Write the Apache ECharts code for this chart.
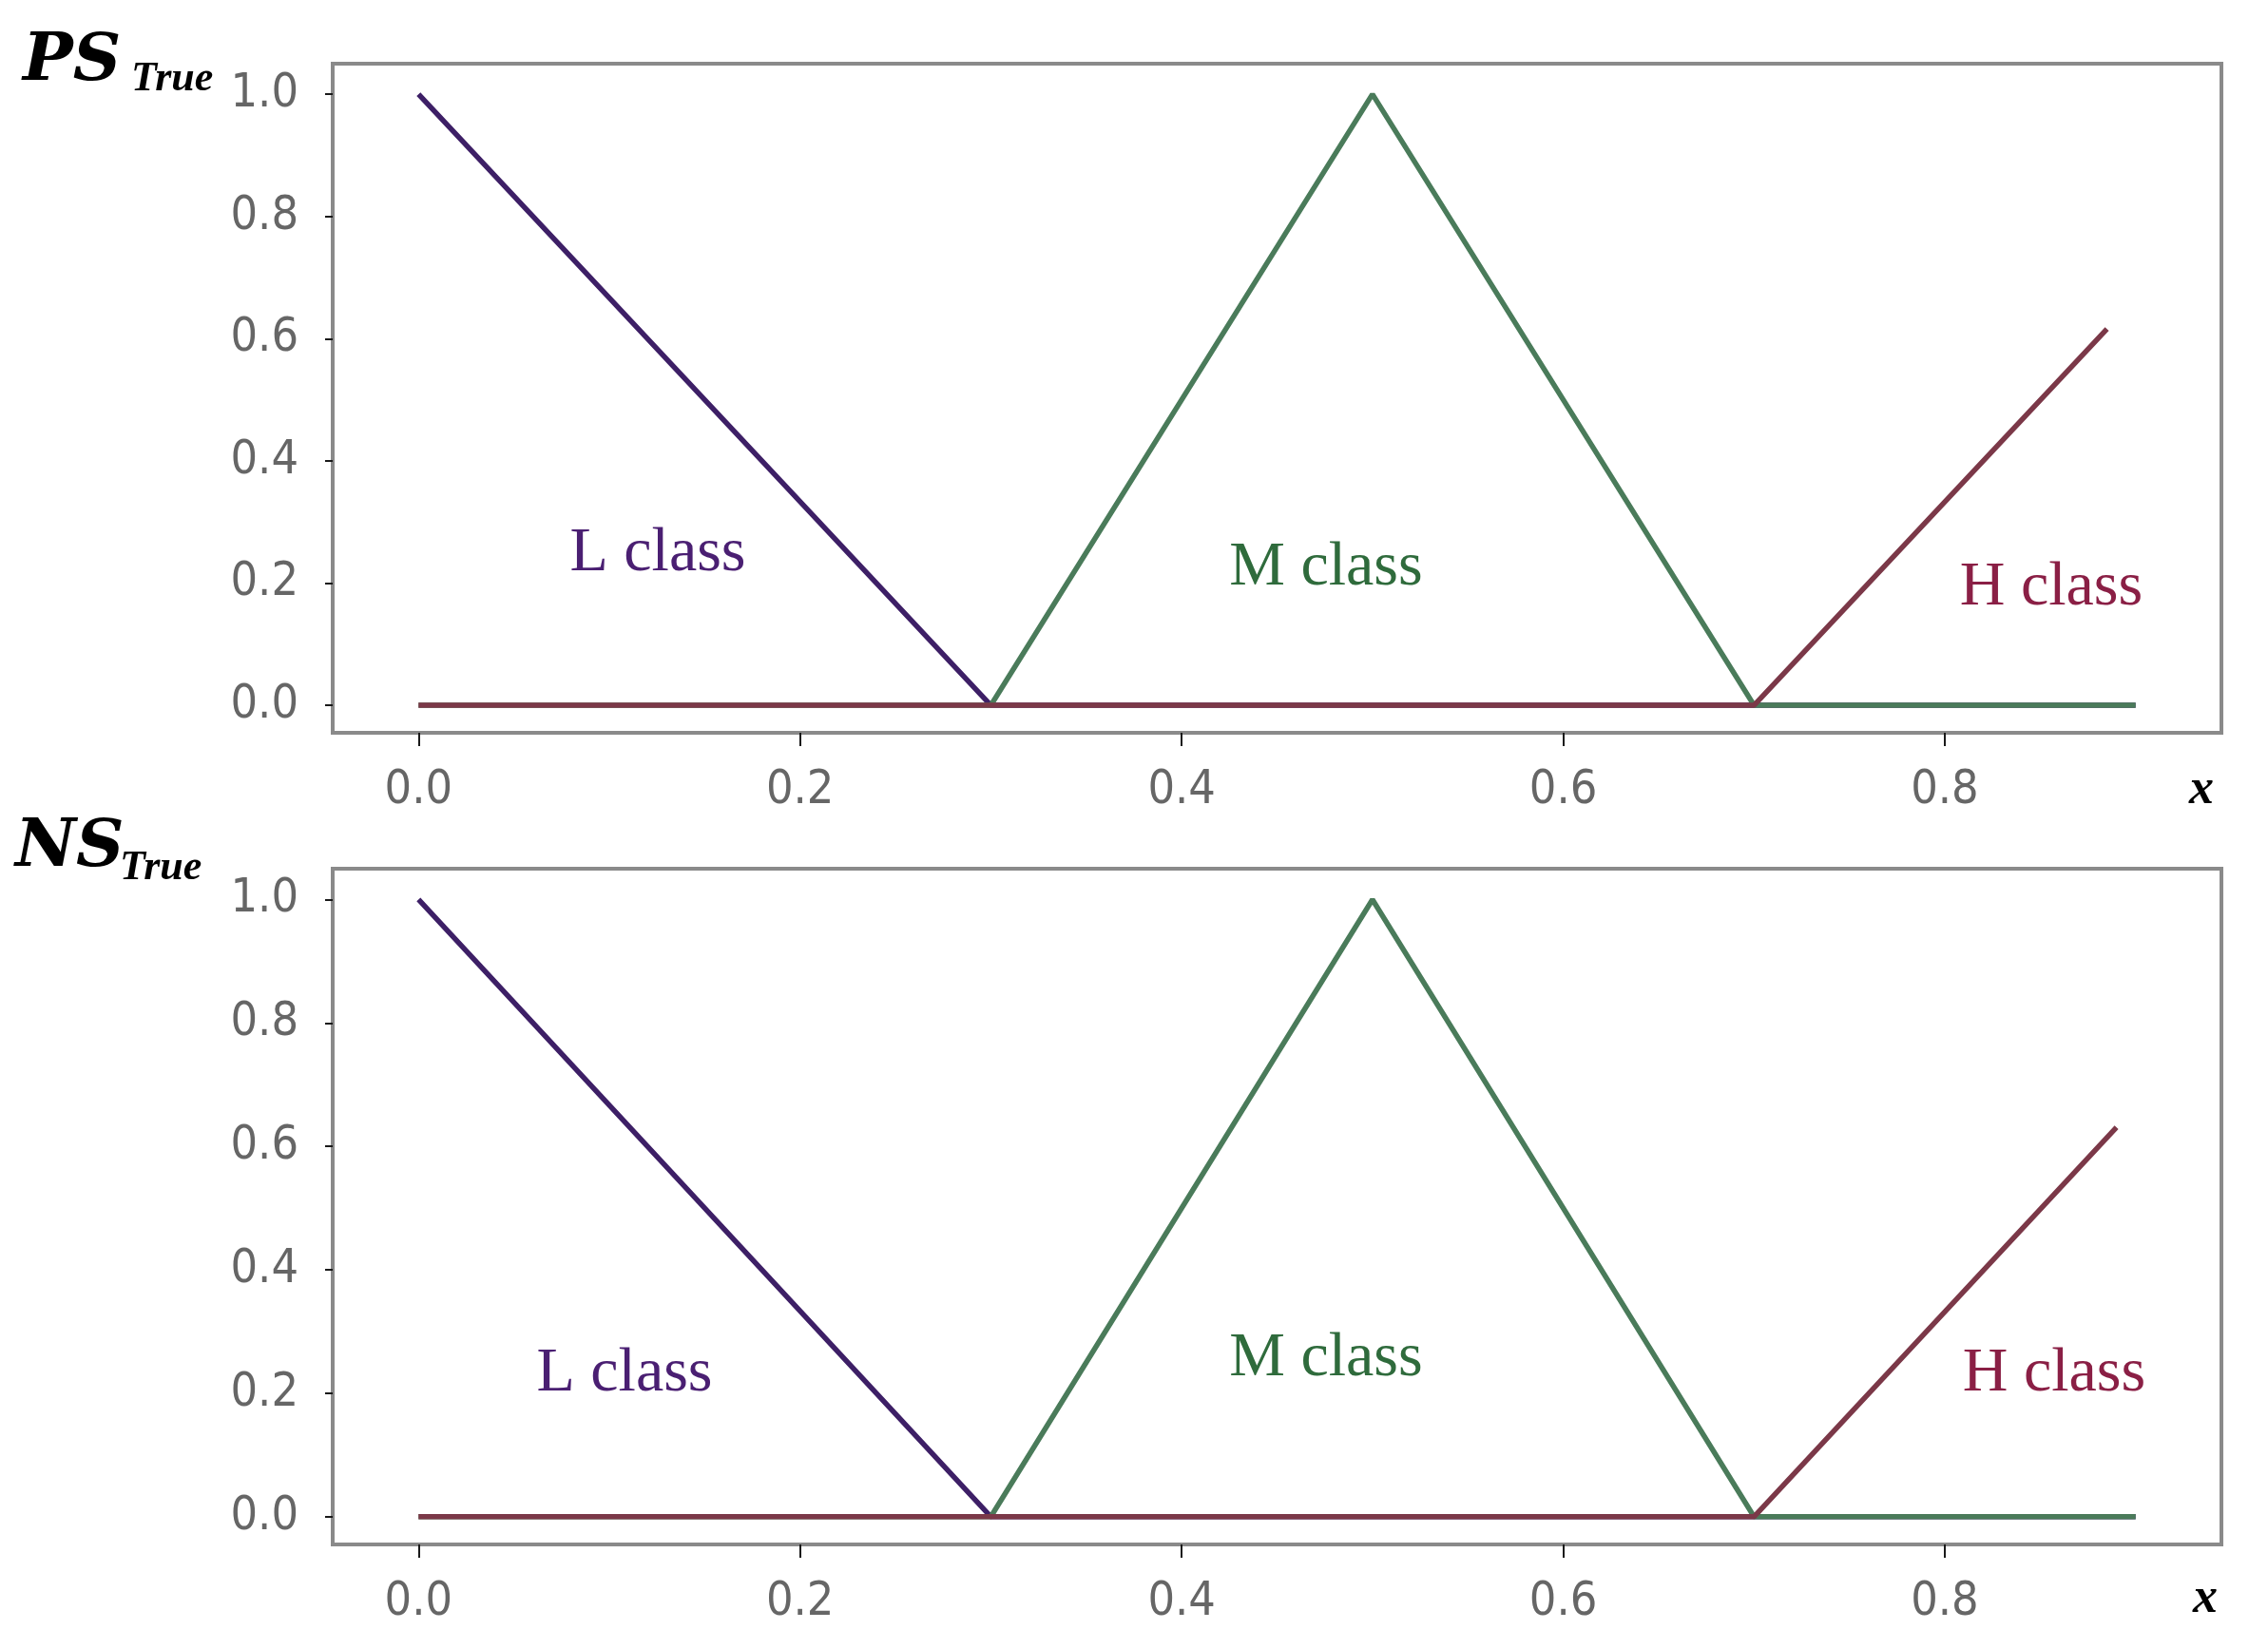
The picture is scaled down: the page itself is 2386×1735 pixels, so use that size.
<!DOCTYPE html>
<html>
<head>
<meta charset="utf-8">
<script src="https://cdn.jsdelivr.net/npm/echarts@6/dist/echarts.min.js"></script>
<style>html,body{margin:0;padding:0;background:#fff;}#c{width:2386px;height:1735px;}</style>
</head>
<body>
<div id="c"></div>
<script>
// ---- data ----
const xTicks = [0.0, 0.2, 0.4, 0.6, 0.8];
const yTicks = [0.0, 0.2, 0.4, 0.6, 0.8, 1.0];

// PS_True panel
const psL_x = [0.0, 0.3, 0.9];
const psL_y = [1.0, 0.0, 0.0];
const psM_x = [0.0, 0.3, 0.5, 0.7, 0.9];
const psM_y = [0.0, 0.0, 1.0, 0.0, 0.0];
const psH_x = [0.0, 0.7, 0.885];
const psH_y = [0.0, 0.0, 0.616];

// NS_True panel
const nsL_x = [0.0, 0.3, 0.9];
const nsL_y = [1.0, 0.0, 0.0];
const nsM_x = [0.0, 0.3, 0.5, 0.7, 0.9];
const nsM_y = [0.0, 0.0, 1.0, 0.0, 0.0];
const nsH_x = [0.0, 0.7, 0.89];
const nsH_y = [0.0, 0.0, 0.631];

const classNames = ['L class', 'M class', 'H class'];
const panelNames = ['PS', 'NS'];
const subscript = 'True';

// ---- styles ----
const cL = '#3d1f66', cM = '#4a7b5a', cH = '#7b3848';
const tL = '#4a1f72', tM = '#2f6b3c', tH = '#8a1f45';
const tickFont = "'DejaVu Sans Condensed','Liberation Sans',sans-serif";
const serif = "'Liberation Serif','DejaVu Serif',serif";
const wideSerif = "'DejaVu Serif','Liberation Serif',serif";

function pairs(xs, ys){ return xs.map((x,i)=>[x, ys[i]]); }

function xAxisCfg(gi){
  return {
    type:'value', gridIndex:gi, min:-0.045, max:0.945,
    axisLine:{show:false, onZero:false},
    splitLine:{show:false},
    axisTick:{show:true, customValues:xTicks, length:14, inside:false, lineStyle:{color:'#1a1a1a', width:2}},
    axisLabel:{show:true, customValues:xTicks, margin:36, color:'#666666', fontSize:50, fontFamily:tickFont,
      formatter:v=>v.toFixed(1)}
  };
}
function yAxisCfg(gi){
  return {
    type:'value', gridIndex:gi, min:-0.045, max:1.05,
    axisLine:{show:false, onZero:false},
    splitLine:{show:false},
    axisTick:{show:true, customValues:yTicks, length:8, inside:false, lineStyle:{color:'#1a1a1a', width:2}},
    axisLabel:{show:true, customValues:yTicks, margin:36, color:'#666666', fontSize:50, fontFamily:tickFont,
      formatter:v=>v.toFixed(1)}
  };
}
function line(gi, xs, ys, color, z){
  return {type:'line', xAxisIndex:gi, yAxisIndex:gi, data:pairs(xs,ys), showSymbol:false, symbol:'none',
    lineStyle:{color:color, width:5.5}, itemStyle:{color:color}, z:z, silent:true};
}
function txt(x, y, s, font, fill, align){
  return {type:'text', x:x, y:y, silent:true,
    style:{text:s, font:font, fill:fill, align:align||'center', verticalAlign:'middle'}};
}

const chart = echarts.init(document.getElementById('c'));
chart.setOption({
  animation:false,
  backgroundColor:'#ffffff',
  grid:[
    {left:350, top:67, width:1987, height:704, show:true, borderColor:'#8a8a8a', borderWidth:4, outerBoundsMode:'none', containLabel:false},
    {left:350, top:914, width:1987, height:711, show:true, borderColor:'#8a8a8a', borderWidth:4, outerBoundsMode:'none', containLabel:false}
  ],
  xAxis:[xAxisCfg(0), xAxisCfg(1)],
  yAxis:[yAxisCfg(0), yAxisCfg(1)],
  series:[
    line(0, psL_x, psL_y, cL, 2),
    line(0, psM_x, psM_y, cM, 3),
    line(0, psH_x, psH_y, cH, 4),
    line(1, nsL_x, nsL_y, cL, 2),
    line(1, nsM_x, nsM_y, cM, 3),
    line(1, nsH_x, nsH_y, cH, 4)
  ],
  graphic:[
    txt(24, 66, panelNames[0], 'italic bold 70px '+wideSerif, '#000', 'left'),
    txt(138, 84, subscript, 'italic bold 44px '+serif, '#000', 'left'),
    txt(16, 893, panelNames[1], 'italic bold 70px '+wideSerif, '#000', 'left'),
    txt(126, 914, subscript, 'italic bold 44px '+serif, '#000', 'left'),
    txt(2316, 832, 'x', 'italic bold 52px '+serif, '#000'),
    txt(2320, 1683, 'x', 'italic bold 52px '+serif, '#000'),
    txt(692, 583, classNames[0], '66px '+serif, tL),
    txt(1395, 598, classNames[1], '66px '+serif, tM),
    txt(2158, 619, classNames[2], '66px '+serif, tH),
    txt(657, 1446, classNames[0], '66px '+serif, tL),
    txt(1395, 1430, classNames[1], '66px '+serif, tM),
    txt(2161, 1446, classNames[2], '66px '+serif, tH)
  ]
});
</script>
</body>
</html>
